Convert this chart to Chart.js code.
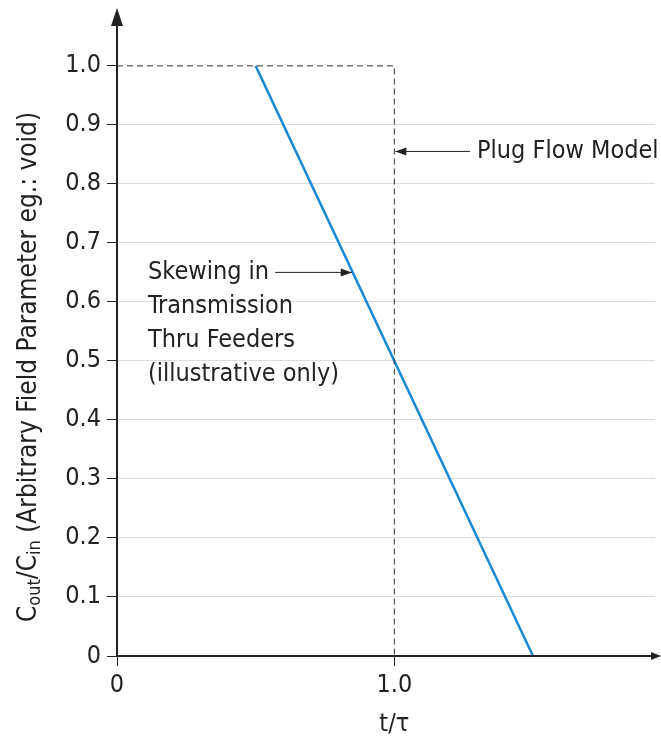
<!DOCTYPE html>
<html>
<head>
<meta charset="utf-8">
<script src="https://cdn.jsdelivr.net/npm/chart.js@4.4.1/dist/chart.umd.min.js"></script>
<style>
    html, body { margin: 0; padding: 0; background: #fff; }
    #wrap { width: 661px; height: 738px; }
</style>
</head>
<body>
<div id="wrap"><canvas id="chart"></canvas></div>
<script>
// data
const skewX = [0.5, 1.5];
const skewY = [1.0, 0];
const plugX = [0, 1.0, 1.0];
const plugY = [1.0, 1.0, 0];
const xTicks = [0, 1.0];
const xTickLabels = ['0', '1.0'];
const yTicks = [0, 0.1, 0.2, 0.3, 0.4, 0.5, 0.6, 0.7, 0.8, 0.9, 1.0];

const FONT = '"DejaVu Sans Condensed", "DejaVu Sans", sans-serif';
const INK = '#222';

const toPoints = (xs, ys) => xs.map((x, i) => ({ x: x, y: ys[i] }));

// axes with arrows, the y title with subscripts, and the two callouts
const decorations = {
    id: 'decorations',
    afterDraw(chart) {
        const { ctx, chartArea, scales: { x, y } } = chart;
        const x0 = x.getPixelForValue(0);
        const y0 = y.getPixelForValue(0);
        const tip = 8;
        ctx.save();
        ctx.strokeStyle = INK;
        ctx.fillStyle = INK;
        ctx.lineWidth = 2;

        // y axis with arrow
        ctx.beginPath();
        ctx.moveTo(x0, y0);
        ctx.lineTo(x0, tip + 14);
        ctx.stroke();
        ctx.beginPath();
        ctx.moveTo(x0, tip);
        ctx.lineTo(x0 - 6, tip + 18);
        ctx.lineTo(x0 + 6, tip + 18);
        ctx.closePath();
        ctx.fill();

        // x axis with small arrow
        ctx.beginPath();
        ctx.moveTo(x0, y0);
        ctx.lineTo(chartArea.right + 4, y0);
        ctx.stroke();
        ctx.beginPath();
        ctx.moveTo(chartArea.right + 6, y0);
        ctx.lineTo(chartArea.right - 4, y0 - 4);
        ctx.lineTo(chartArea.right - 4, y0 + 4);
        ctx.closePath();
        ctx.fill();

        const arrow = (fromX, toX, py) => {
            ctx.lineWidth = 1;
            ctx.beginPath();
            ctx.moveTo(fromX, py);
            ctx.lineTo(toX, py);
            ctx.stroke();
            const d = toX > fromX ? -1 : 1;
            ctx.beginPath();
            ctx.moveTo(toX, py);
            ctx.lineTo(toX + d * 11, py - 4);
            ctx.lineTo(toX + d * 11, py + 4);
            ctx.closePath();
            ctx.fill();
        };

        // Plug Flow Model callout
        const pY = y.getPixelForValue(0.855);
        arrow(470, x.getPixelForValue(1.0) + 1, pY);
        ctx.font = '25px ' + FONT;
        ctx.textAlign = 'left';
        ctx.textBaseline = 'middle';
        ctx.fillText('Plug Flow Model', 477, pY);

        // Skewing callout
        const sY = y.getPixelForValue(0.65);
        arrow(275, x.getPixelForValue(1.5 - 0.65) - 1, sY);
        const lines = ['Skewing in', 'Transmission', 'Thru Feeders', '(illustrative only)'];
        lines.forEach((t, i) => ctx.fillText(t, 148, sY + i * 34));

        // x title
        ctx.textAlign = 'center';
        ctx.fillText('t/\u03c4', x.getPixelForValue(1.0), 724);

        // y title, rotated, with subscripts
        const parts = [
            ['C', 26, 0], ['out', 18, 6], ['/C', 26, 0], ['in', 18, 6],
            [' (Arbitrary Field Parameter eg.: void)', 26, 0]
        ];
        let total = 0;
        parts.forEach(p => { ctx.font = p[1] + 'px ' + FONT; total += ctx.measureText(p[0]).width; });
        ctx.translate(29, 367);
        ctx.rotate(-Math.PI / 2);
        ctx.textAlign = 'left';
        let cx = -total / 2;
        parts.forEach(p => {
            ctx.font = p[1] + 'px ' + FONT;
            ctx.fillText(p[0], cx, p[2]);
            cx += ctx.measureText(p[0]).width;
        });
        ctx.restore();
    }
};

new Chart(document.getElementById('chart'), {
    type: 'scatter',
    data: {
        datasets: [
            {
                data: toPoints(plugX, plugY),
                showLine: true,
                borderColor: '#333',
                borderWidth: 1,
                borderDash: [6, 4],
                pointRadius: 0
            },
            {
                data: toPoints(skewX, skewY),
                showLine: true,
                borderColor: '#1a8ad4',
                borderWidth: 2.5,
                pointRadius: 0
            }
        ]
    },
    options: {
        responsive: true,
        maintainAspectRatio: false,
        animation: false,
        layout: { padding: { top: 6, right: 6, left: 0, bottom: 0 } },
        plugins: { legend: { display: false }, tooltip: { enabled: false } },
        scales: {
            x: {
                type: 'linear',
                min: 0,
                max: 1.94,
                afterFit: (scale) => { scale.height = 82; },
                afterBuildTicks: (scale) => { scale.ticks = xTicks.map(v => ({ value: v })); },
                border: { display: false },
                grid: { drawOnChartArea: false, tickLength: 10, tickColor: INK, tickWidth: 1 },
                ticks: {
                    padding: 4,
                    color: INK,
                    font: { family: FONT, size: 25 },
                    callback: (v) => xTickLabels[xTicks.indexOf(v)]
                }
            },
            y: {
                min: 0,
                max: 1.076,
                afterFit: (scale) => { scale.width = 117; },
                afterBuildTicks: (scale) => { scale.ticks = yTicks.map(v => ({ value: v })); },
                border: { display: false },
                grid: {
                    tickLength: 10,
                    tickColor: INK,
                    color: (c) => (c.tick && (c.tick.value === 0 || c.tick.value === 1.0)) ? 'rgba(0,0,0,0)' : '#dcdcdc'
                },
                ticks: {
                    padding: 6,
                    color: INK,
                    font: { family: FONT, size: 25 },
                    callback: (v) => v === 0 ? '0' : v.toFixed(1)
                }
            }
        }
    },
    plugins: [decorations]
});
</script>
</body>
</html>
